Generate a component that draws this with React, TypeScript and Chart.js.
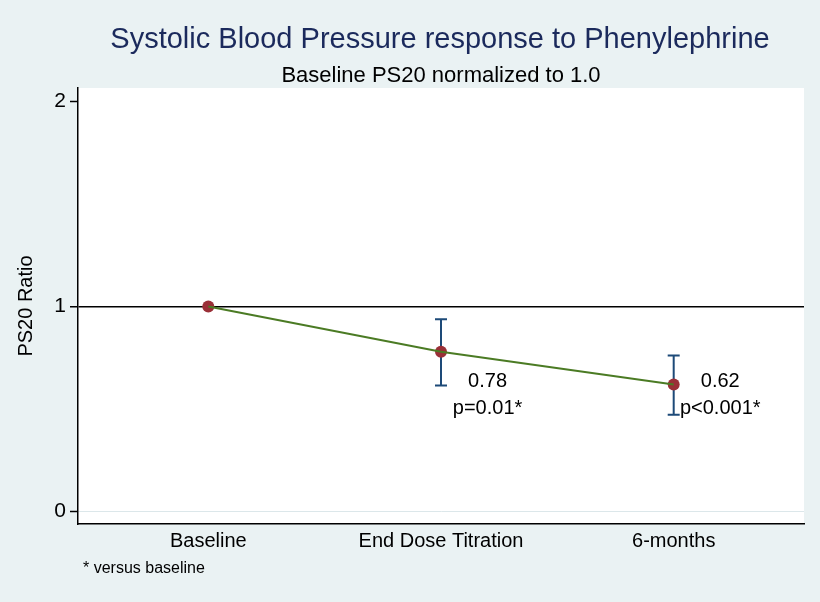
import { useEffect, useRef } from 'react';
import { Chart, registerables } from 'chart.js';

Chart.register(...registerables);

// ---- data ----
const categories = ['Baseline', 'End Dose Titration', '6-months'];
const xPositions = [1, 2, 3];
const ratio = [1.0, 0.78, 0.62];
const ciLow: (number | null)[] = [null, 0.615, 0.473];
const ciHigh: (number | null)[] = [null, 0.938, 0.761];
const yTicks = [0, 1, 2];
const valueLabels = ['', '0.78', '0.62'];
const pLabels = ['', 'p=0.01*', 'p<0.001*'];

const titleText = 'Systolic Blood Pressure response to Phenylephrine';
const subtitleText = 'Baseline PS20 normalized to 1.0';
const yTitleText = 'PS20 Ratio';
const noteText = '* versus baseline';

const FONT = '"Liberation Sans", Arial, Helvetica, sans-serif';

export default function App() {
  const ref = useRef<HTMLCanvasElement>(null);

  useEffect(() => {
    if (!ref.current) return;

    const bgPlugin = {
      id: 'bgPlugin',
      beforeDraw(chart: any) {
        const { ctx, chartArea: a } = chart;
        ctx.save();
        ctx.fillStyle = '#EAF2F3';
        ctx.fillRect(0, 0, chart.width, chart.height);
        ctx.fillStyle = '#FFFFFF';
        ctx.fillRect(a.left, a.top, a.right - a.left, a.bottom - a.top);
        ctx.restore();
      },
    };

    const errorBarPlugin = {
      id: 'errorBarPlugin',
      beforeDatasetsDraw(chart: any) {
        const { ctx } = chart;
        const xs = chart.scales.x;
        const ys = chart.scales.y;
        ctx.save();
        ctx.strokeStyle = '#1D4A78';
        ctx.lineWidth = 2;
        for (let i = 0; i < xPositions.length; i++) {
          const lo = ciLow[i];
          const hi = ciHigh[i];
          if (lo == null || hi == null) continue;
          const px = xs.getPixelForValue(xPositions[i]);
          const pLo = ys.getPixelForValue(lo);
          const pHi = ys.getPixelForValue(hi);
          ctx.beginPath();
          ctx.moveTo(px, pLo);
          ctx.lineTo(px, pHi);
          ctx.moveTo(px - 6, pLo);
          ctx.lineTo(px + 6, pLo);
          ctx.moveTo(px - 6, pHi);
          ctx.lineTo(px + 6, pHi);
          ctx.stroke();
        }
        ctx.restore();
      },
    };

    const textPlugin = {
      id: 'textPlugin',
      afterDraw(chart: any) {
        const { ctx } = chart;
        const xs = chart.scales.x;
        const ys = chart.scales.y;
        ctx.save();
        // titles
        ctx.textAlign = 'center';
        ctx.textBaseline = 'alphabetic';
        ctx.fillStyle = '#1B2A5C';
        ctx.font = `29px ${FONT}`;
        ctx.fillText(titleText, 440, 48);
        ctx.fillStyle = '#000000';
        ctx.font = `22px ${FONT}`;
        ctx.fillText(subtitleText, 441, 82);

        // annotations
        ctx.font = `20px ${FONT}`;
        for (let i = 0; i < xPositions.length; i++) {
          const px = xs.getPixelForValue(xPositions[i] + 0.2);
          if (valueLabels[i]) ctx.fillText(valueLabels[i], px, ys.getPixelForValue(0.61));
          if (pLabels[i]) ctx.fillText(pLabels[i], px, ys.getPixelForValue(0.477));
        }

        // y axis title
        ctx.save();
        ctx.translate(32, 306);
        ctx.rotate(-Math.PI / 2);
        ctx.textAlign = 'center';
        ctx.font = `20px ${FONT}`;
        ctx.fillText(yTitleText, 0, 0);
        ctx.restore();

        // footnote
        ctx.textAlign = 'left';
        ctx.font = `16px ${FONT}`;
        ctx.fillText(noteText, 83, 573);
        ctx.restore();
      },
    };

    const chart = new Chart(ref.current, {
      type: 'line',
      data: {
        datasets: [
          {
            label: 'line',
            data: xPositions.map((x, i) => ({ x, y: ratio[i] })),
            borderColor: '#4B7B24',
            borderWidth: 2,
            pointRadius: 0,
            fill: false,
            order: 0,
          },
          {
            label: 'points',
            data: xPositions.map((x, i) => ({ x, y: ratio[i] })),
            showLine: false,
            pointRadius: 6,
            pointBackgroundColor: '#9A2F37',
            pointBorderColor: '#9A2F37',
            pointBorderWidth: 0,
            order: 1,
          },
        ],
      },
      options: {
        animation: false,
        responsive: false,
        devicePixelRatio: 1,
        layout: { padding: { top: 88, right: 16, left: 0, bottom: 0 } },
        plugins: {
          legend: { display: false },
          tooltip: { enabled: false },
          title: { display: false },
        },
        scales: {
          x: {
            type: 'linear',
            min: 0.44,
            max: 3.56,
            afterBuildTicks: (scale: any) => {
              scale.ticks = xPositions.map((v) => ({ value: v }));
            },
            afterFit: (scale: any) => {
              scale.height = 78;
            },
            ticks: {
              autoSkip: false,
              maxRotation: 0,
              padding: 5,
              color: '#000000',
              font: { family: FONT, size: 20 },
              callback: (v: any) => {
                const idx = xPositions.indexOf(Number(v));
                return idx >= 0 ? categories[idx] : '';
              },
            },
            grid: { display: true, drawOnChartArea: false, drawTicks: false, color: 'transparent' },
            border: { display: true, color: '#000000', width: 1.5 },
          },
          y: {
            type: 'linear',
            min: -0.06,
            max: 2.065,
            afterBuildTicks: (scale: any) => {
              scale.ticks = yTicks.map((v) => ({ value: v }));
            },
            afterFit: (scale: any) => {
              scale.width = 78;
            },
            ticks: {
              padding: 4,
              color: '#000000',
              font: { family: FONT, size: 21 },
              callback: (v: any) => String(v),
            },
            grid: {
              drawOnChartArea: true,
              drawTicks: true,
              tickLength: 8,
              tickColor: '#000000',
              tickWidth: 1.5,
              color: (c: any) =>
                c.tick && c.tick.value === 1
                  ? '#000000'
                  : c.tick && c.tick.value === 0
                  ? '#DCE7EA'
                  : 'rgba(0,0,0,0)',
              lineWidth: (c: any) => (c.tick && c.tick.value === 1 ? 1.5 : 1),
            },
            border: { display: true, color: '#000000', width: 1.5 },
          },
        },
      },
      plugins: [bgPlugin, errorBarPlugin, textPlugin],
    } as any);

    return () => chart.destroy();
  }, []);

  return (
    <div style={{ position: 'absolute', left: 0, top: 0, width: 820, height: 602 }}>
      <canvas ref={ref} width={820} height={602} style={{ display: 'block', width: 820, height: 602 }} />
    </div>
  );
}
